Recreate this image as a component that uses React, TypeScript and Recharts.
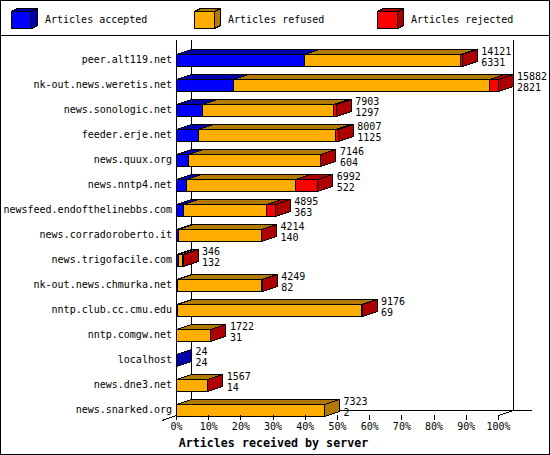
import { BarChart, Bar, XAxis, YAxis, Legend, LabelList, Customized } from 'recharts'

const servers = [
  'peer.alt119.net',
  'nk-out.news.weretis.net',
  'news.sonologic.net',
  'feeder.erje.net',
  'news.quux.org',
  'news.nntp4.net',
  'newsfeed.endofthelinebbs.com',
  'news.corradoroberto.it',
  'news.trigofacile.com',
  'nk-out.news.chmurka.net',
  'nntp.club.cc.cmu.edu',
  'nntp.comgw.net',
  'localhost',
  'news.dne3.net',
  'news.snarked.org'
]
const received = [14121, 15882, 7903, 8007, 7146, 6992, 4895, 4214, 346, 4249, 9176, 1722, 24, 1567, 7323]
const accepted = [6331, 2821, 1297, 1125, 604, 522, 363, 140, 132, 82, 69, 31, 24, 14, 2]
const refused = [7690, 12621, 6496, 6757, 6532, 5350, 4086, 4059, 204, 4152, 9097, 1686, 0, 1548, 7321]
const rejected = [100, 440, 110, 125, 10, 1120, 446, 15, 10, 15, 10, 5, 0, 5, 0]
const percentTicks = [0, 10, 20, 30, 40, 50, 60, 70, 80, 90, 100]

const MAX = 15882
const MONO = '"DejaVu Sans Mono", monospace'
const DX = 15
const DY = 5
const tickFont = { fontSize: 10, fontFamily: MONO, fill: '#000' }

const rows = servers.map((server, i) => ({
  server,
  accepted: accepted[i],
  refused: refused[i],
  rejected: rejected[i]
}))

const dark: Record<string, string> = {
  '#0000ff': '#0000ae',
  '#ffae00': '#b27a00',
  '#ff0000': '#ae0000'
}

// fake 3d block: top and side faces first, then the front
function Block(props: any) {
  const { x, y, width, height, fill } = props
  if (!(props.value?.[1] > props.value?.[0])) return null
  const x0 = Math.floor(x - 0.5) + 0.5
  const x1 = Math.floor(x + width - 0.5) + 0.5
  const y0 = Math.round(y + 6.5) + 0.5
  const y1 = y0 + Math.round(height)
  const shade = dark[fill]
  return (
    <g stroke="#000" strokeWidth={1} shapeRendering="crispEdges">
      <polygon fill={shade} points={`${x0},${y0} ${x0 + DX},${y0 - DY} ${x1 + DX},${y0 - DY} ${x1},${y0}`} />
      <polygon fill={shade} points={`${x1},${y0} ${x1 + DX},${y0 - DY} ${x1 + DX},${y1 - DY} ${x1},${y1}`} />
      <rect x={x0} y={y0} width={x1 - x0} height={y1 - y0} fill={fill} />
    </g>
  )
}

function Frame() {
  const lines = [
    [176.5, 40, 176.5, 415],
    [191.5, 40, 191.5, 410.5],
    [513.5, 40, 513.5, 410.5],
    [191.5, 410.5, 532, 410.5],
    [162, 420.5, 176.5, 415.5],
    [498.5, 415.5, 513.5, 410.5]
  ]
  return (
    <g stroke="#000" shapeRendering="crispEdges">
      {lines.map((l, i) => (
        <line key={i} x1={l[0]} y1={l[1]} x2={l[2]} y2={l[3]} />
      ))}
    </g>
  )
}

function LegendCubes({ payload }: any) {
  return (
    <div style={{ position: 'relative', width: 548, height: 34, borderBottom: '1px solid #000' }}>
      {(payload ?? []).map((item: any, i: number) => (
        <div key={item.value}>
          <svg width={32} height={26} style={{ position: 'absolute', left: 9 + i * 183, top: 7 }}>
            <g stroke="#000" shapeRendering="crispEdges">
              <polygon fill={dark[item.color]} points="1.5,3.5 7.5,0.5 27.5,0.5 21.5,3.5" />
              <polygon fill={dark[item.color]} points="21.5,3.5 27.5,0.5 27.5,17.5 21.5,20.5" />
              <rect x={1.5} y={3.5} width={20} height={17} fill={item.color} />
            </g>
          </svg>
          <span style={{ position: 'absolute', left: 44 + i * 183, top: 12, fontFamily: MONO, fontSize: 10, lineHeight: '14px', whiteSpace: 'pre', color: '#000' }}>
            {item.value}
          </span>
        </div>
      ))}
    </div>
  )
}

function CountLabel(props: any) {
  const { x, width, y, index } = props
  const left = x + width + 18.5
  const top = y + 6.5
  return (
    <text x={left} fontFamily={MONO} fontSize={10} fill="#000">
      <tspan x={left} y={top + 1}>{received[index]}</tspan>
      <tspan x={left} y={top + 12}>{accepted[index]}</tspan>
    </text>
  )
}

export default function App() {
  return (
    <div style={{ position: 'absolute', left: 0, top: 0, width: 550, height: 455, boxSizing: 'border-box', border: '1px solid #000', background: '#fff', overflow: 'hidden' }}>
      <div style={{ position: 'absolute', left: -1, top: -1 }}>
        <BarChart
          width={550}
          height={455}
          data={rows}
          layout="vertical"
          barSize={12}
          margin={{ top: 5, right: 51.5, bottom: 0, left: 0 }}
        >
          <Customized component={Frame} />
          <XAxis
            type="number"
            domain={[0, MAX]}
            ticks={percentTicks.map((p) => (p / 100) * MAX)}
            tickFormatter={(v: number) => `${Math.round((v / MAX) * 100)}%`}
            height={40}
            axisLine={false}
            tickSize={5}
            tickMargin={3}
            tickLine={{ stroke: '#000', shapeRendering: 'crispEdges' }}
            tick={tickFont}
            interval={0}
            label={{
              value: 'Articles received by server',
              position: 'insideBottom',
              offset: 8,
              dx: -64,
              style: { fontSize: 11.67, fontWeight: 700, fontFamily: MONO, fill: '#000' }
            }}
          />
          <YAxis
            type="category"
            dataKey="server"
            width={176.5}
            axisLine={false}
            tickLine={false}
            tickSize={0}
            tickMargin={4.5}
            interval={0}
            dy={7}
            tick={tickFont}
          />
          <Legend
            content={<LegendCubes />}
            verticalAlign="top"
            height={0}
            wrapperStyle={{ position: 'absolute', left: 1, top: 1, width: 548, height: 35 }}
          />
          <Bar dataKey="accepted" name="Articles accepted" stackId="a" fill="#0000ff" shape={Block} isAnimationActive={false} />
          <Bar dataKey="refused" name="Articles refused" stackId="a" fill="#ffae00" shape={Block} isAnimationActive={false} />
          <Bar dataKey="rejected" name="Articles rejected" stackId="a" fill="#ff0000" shape={Block} isAnimationActive={false}>
            <LabelList content={CountLabel} />
          </Bar>
        </BarChart>
      </div>
    </div>
  )
}
